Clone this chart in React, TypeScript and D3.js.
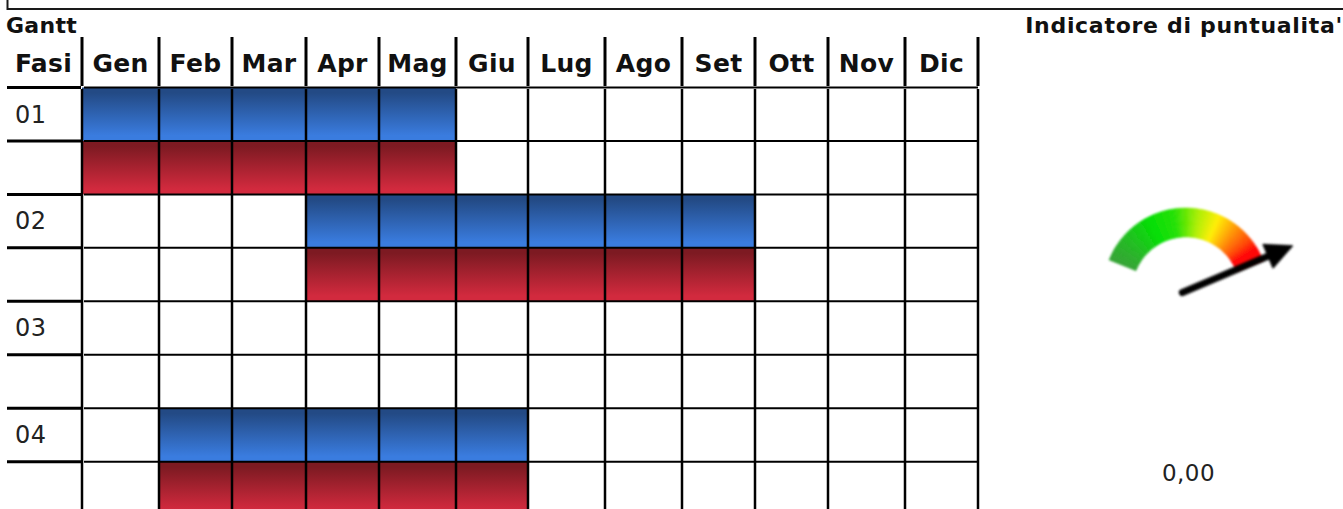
import * as d3 from 'd3';

// Gantt content
const months = ['Gen', 'Feb', 'Mar', 'Apr', 'Mag', 'Giu', 'Lug', 'Ago', 'Set', 'Ott', 'Nov', 'Dic'];
const phases = ['01', '02', '03', '04'];
const plannedStart = ['Gen', 'Apr', null, 'Feb'];
const plannedEnd = ['Mag', 'Set', null, 'Giu'];
const actualStart = ['Gen', 'Apr', null, 'Feb'];
const actualEnd = ['Mag', 'Set', null, 'Giu'];

// Punctuality gauge
const punctuality = 0;
const punctualityLabel = '0,00';
const gaugeStops = [1, 0.88, 0.7, 0.56, 0.43, 0.32, 0.26, 0.2, 0.12, 0.06, 0];
const gaugeColors = ['#33a033', '#22b522', '#00dd00', '#22e000', '#aaee00', '#ffee00', '#ffbb00', '#ff8800', '#ff4400', '#ff0000', '#ff0000'];

// Layout: the month columns of the original table are not all equally wide
const colEdges = [82, 159, 232, 306, 379, 456, 528, 605, 682, 755, 828, 905, 978];
const rowTop = 87.5;
const rowHeight = 53.45;
const font = '"DejaVu Sans", sans-serif';

export default function App() {
  const x = d3.scaleLinear().domain(d3.range(months.length + 1)).range(colEdges);
  const y = d3.scaleLinear().domain([0, 1]).range([rowTop, rowTop + rowHeight]);
  const monthIndex = (m: string) => months.indexOf(m);

  const rows = d3.range(phases.length * 2);
  const colLines = d3.range(months.length + 1);

  const angle = d3.scaleLinear().domain([0, 1]).range([68, -68]);
  const gaugeColor = d3.scaleLinear<string>().domain(gaugeStops).range(gaugeColors);
  const arc = d3.arc();
  const sliceCount = 80;
  const slices = d3.range(sliceCount).map((i) => i / sliceCount);
  const toRad = (deg: number) => (deg * Math.PI) / 180;

  const bar = (start: string | null, end: string | null, row: number, fill: string) => {
    if (!start || !end) return null;
    const x0 = x(monthIndex(start));
    const x1 = x(monthIndex(end) + 1);
    return <rect key={`${row}`} x={x0} y={y(row)} width={x1 - x0} height={rowHeight} fill={fill} />;
  };

  return (
    <svg
      width={1343}
      height={509}
      style={{ position: 'absolute', left: 0, top: 0, display: 'block', background: '#fff' }}
      fontFamily={font}
    >
      <defs>
        <linearGradient id="planned" x1="0" y1="0" x2="0" y2="1">
          <stop offset="0.1" stopColor="#234a85" />
          <stop offset="0.9" stopColor="#3a7cdf" />
        </linearGradient>
        <linearGradient id="actual" x1="0" y1="0" x2="0" y2="1">
          <stop offset="0.1" stopColor="#7d1a22" />
          <stop offset="0.9" stopColor="#d22a3e" />
        </linearGradient>
        <filter id="soft" x="-10%" y="-10%" width="120%" height="120%">
          <feGaussianBlur stdDeviation="0.9" />
        </filter>
      </defs>

      {/* frame of the block above, cut off by the crop */}
      <path d="M7.5,0V9H1343" fill="none" stroke="#1a1a1a" strokeWidth={2} />

      <text x={6} y={33} fontSize={22} fontWeight="bold" letterSpacing={0.3} fill="#111">Gantt</text>
      <text x={1343} y={33} fontSize={22} fontWeight="bold" letterSpacing={0.7} fill="#111" textAnchor="end">Indicatore di puntualita'</text>

      {/* bars */}
      {phases.map((_, i) => bar(plannedStart[i], plannedEnd[i], i * 2, 'url(#planned)'))}
      {phases.map((_, i) => bar(actualStart[i], actualEnd[i], i * 2 + 1, 'url(#actual)'))}

      {/* grid */}
      {rows.map((r) => (
        <g key={r}>
          <line x1={84} x2={978} y1={y(r)} y2={y(r)} stroke="#000" strokeWidth={2} />
          <line x1={7} x2={81} y1={y(r)} y2={y(r)} stroke="#000" strokeWidth={3} />
        </g>
      ))}
      {colLines.map((c) => (
        <g key={c}>
          <line x1={x(c)} x2={x(c)} y1={37} y2={86} stroke="#000" strokeWidth={3} />
          <line x1={x(c)} x2={x(c)} y1={89} y2={509} stroke="#000" strokeWidth={2.5} />
        </g>
      ))}

      {/* header */}
      <text x={43.5} y={72} textAnchor="middle" fontSize={25} letterSpacing={0.3} fontWeight="bold" fill="#111">Fasi</text>
      {months.map((m, i) => (
        <text
          key={m}
          x={(x(i) + x(i + 1)) / 2}
          y={72}
          textAnchor="middle"
          fontSize={25}
          letterSpacing={0.3}
          fontWeight="bold"
          fill="#111"
        >
          {m}
        </text>
      ))}

      {/* phase labels */}
      {phases.map((p, i) => (
        <text key={p} x={15} y={y(i * 2) + 35} fontSize={24} letterSpacing={0.5} fill="#222">{p}</text>
      ))}

      {/* gauge */}
      <g transform="translate(1186,291)">
        <g filter="url(#soft)">
          {slices.map((t) => (
            <path
              key={t}
              fill={gaugeColor(t)}
              stroke={gaugeColor(t)}
              strokeWidth={0.5}
              d={
                arc({
                  startAngle: toRad(angle(t)),
                  endAngle: toRad(angle(t + 1 / sliceCount)),
                  innerRadius: 54,
                  outerRadius: 83,
                }) as string
              }
            />
          ))}
        </g>
        <g transform={`rotate(${angle(punctuality) - 1})`} filter="url(#soft)">
          <line x1={0} x2={0} y1={4} y2={-92} stroke="#000" strokeWidth={7} strokeLinecap="round" />
          <path d="M0,-116 L13,-89 L-13,-89 Z" fill="#000" stroke="#000" strokeWidth={1} />
        </g>
      </g>
      <text x={1188.5} y={481} textAnchor="middle" fontSize={23} letterSpacing={0.5} fill="#222">{punctualityLabel}</text>
    </svg>
  );
}
